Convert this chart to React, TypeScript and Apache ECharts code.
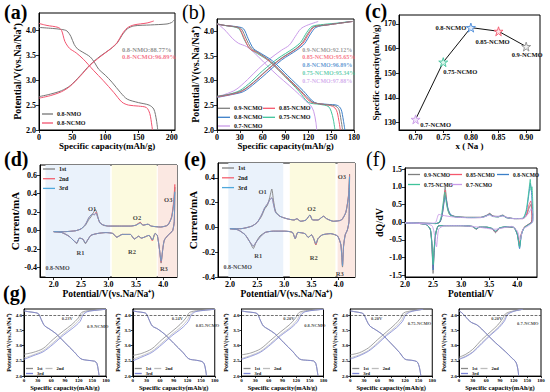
import React, { useEffect, useRef } from "react";
import * as echarts from "echarts";

const FONT = "'Liberation Serif', 'Times New Roman', serif";

// ===== (a) =====
const aNames = ["0.8-NMO", "0.8-NCMO"];
const aColors = ["#767676", "#f2536f"];
const aNmoCharge = [[0,2.67],[17,2.72],[34,2.79],[47,2.89],[62,3.09],[77,3.31],[92,3.48],[108,3.63],[118,3.75],[125,3.9],[133,4.03],[143,4.09],[168,4.11],[193,4.13],[200,4.16],[204,4.21]];
const aNmoDischarge = [[0,4.06],[20,4.04],[34,4.02],[42,3.99],[48,3.88],[53,3.72],[58,3.63],[65,3.57],[77,3.47],[84,3.35],[90,3.22],[100,3.1],[110,2.96],[123,2.75],[133,2.62],[150,2.55],[166,2.5],[173,2.42],[177,2.2],[179,2.0]];
const aNcmoCharge = [[0,2.64],[17,2.69],[34,2.77],[47,2.88],[62,3.08],[77,3.3],[92,3.47],[108,3.63],[118,3.76],[125,3.92],[133,4.05],[143,4.11],[163,4.15],[173,4.19]];
const aNcmoDischarge = [[0,4.14],[12,4.1],[29,4.06],[34,4.0],[39,3.78],[46,3.64],[56,3.55],[67,3.42],[82,3.2],[97,2.99],[113,2.75],[125,2.56],[135,2.5],[150,2.48],[162,2.45],[167,2.33],[170,2.1],[171,2.0]];
const aRetention = ["0.8-NMO:88.77%", "0.8-NCMO:96.89%"];

// ===== (b) =====
const bNames = ["0.9-NCMO", "0.85-NCMO", "0.8-NCMO", "0.75-NCMO", "0.7-NCMO"];
const bColors = ["#7f7f7f", "#f5576c", "#3b7fc8", "#3fc39a", "#c99be8"];
const bChg09 = [[0,2.68],[18,2.73],[33,2.8],[48,2.97],[63,3.18],[83,3.44],[103,3.64],[112,3.77],[120,3.97],[127,4.09],[145,4.13],[178,4.2]];
const bChg085 = [[0,2.67],[18,2.72],[33,2.79],[48,2.96],[63,3.17],[83,3.43],[103,3.63],[113,3.76],[121,3.96],[128,4.09],[145,4.13],[178,4.2]];
const bChg08 = [[0,2.66],[20,2.72],[35,2.78],[50,2.95],[65,3.15],[85,3.42],[105,3.62],[115,3.75],[123,3.95],[130,4.08],[145,4.13],[178,4.2]];
const bChg075 = [[0,2.68],[15,2.72],[30,2.8],[45,2.98],[60,3.2],[80,3.45],[100,3.65],[110,3.78],[118,3.98],[125,4.1],[140,4.14],[160,4.17],[175,4.2]];
const bChg07 = [[0,2.68],[10,2.72],[25,2.82],[40,3.02],[55,3.25],[70,3.45],[85,3.62],[95,3.72],[103,3.9],[110,4.05],[118,4.12],[133,4.2]];
const bDis09 = [[0,4.15],[10,4.12],[25,4.09],[32,4.05],[38,3.86],[45,3.66],[55,3.56],[70,3.4],[90,3.1],[110,2.8],[125,2.57],[140,2.52],[155,2.49],[160,2.42],[163,2.2],[165,2.0]];
const bDis085 = [[0,4.15],[10,4.12],[25,4.09],[30,4.05],[36,3.85],[43,3.65],[55,3.55],[70,3.38],[90,3.08],[110,2.78],[123,2.57],[140,2.52],[152,2.48],[157,2.4],[160,2.2],[162,2.0]];
const bDis08 = [[0,4.15],[10,4.12],[28,4.09],[35,4.05],[41,3.85],[48,3.65],[58,3.55],[73,3.4],[93,3.1],[113,2.8],[128,2.56],[145,2.52],[158,2.5],[163,2.42],[166,2.2],[168,2.0]];
const bDis075 = [[0,4.15],[10,4.12],[25,4.08],[30,4.03],[36,3.83],[43,3.65],[53,3.55],[68,3.4],[88,3.1],[108,2.78],[120,2.56],[135,2.52],[146,2.48],[150,2.38],[153,2.2],[155,2.0]];
const bDis07 = [[0,4.15],[5,4.1],[12,4.0],[20,3.86],[28,3.76],[39,3.69],[50,3.55],[65,3.32],[80,3.1],[95,2.9],[108,2.72],[117,2.58],[123,2.5],[127,2.38],[130,2.15],[131,2.0]];
const bCharge = [bChg09, bChg085, bChg08, bChg075, bChg07];
const bDischarge = [bDis09, bDis085, bDis08, bDis075, bDis07];
const bRetention = ["0.9-NCMO:92.12%", "0.85-NCMO:95.65%", "0.8-NCMO:96.89%", "0.75-NCMO:95.34%", "0.7-NCMO:97.88%"];

// ===== (c) =====
const cX = [0.7, 0.75, 0.8, 0.85, 0.9];
const cCap = [131.3, 154.5, 168.5, 167.0, 160.8];
const cNames = ["0.7-NCMO", "0.75-NCMO", "0.8-NCMO", "0.85-NCMO", "0.9-NCMO"];
const cColors = ["#c99be8", "#3fc39a", "#4a8ad8", "#f5576c", "#8f8f8f"];
const cFill = ["#f1e6fa", "#dcf5eb", "#e0ebfa", "#fde2e6", "#f0f0f0"];
const cLabelOffset = [[20, 5], [17, 9], [-20, 0], [-6, 10], [1, 8]];

// ===== (d) 0.8-NMO CV =====
const cvNames = ["1st", "2nd", "3rd"];
const cvColors = ["#7f7f7f", "#f4606f", "#4fa8dc"];
const d1st = [[2.0,-0.01],[2.2,-0.01],[2.4,0.0],[2.5,0.02],[2.58,0.06],[2.64,0.12],[2.68,0.15],[2.72,0.19],[2.76,0.23],[2.79,0.19],[2.83,0.1],[2.9,0.06],[3.0,0.05],[3.2,0.05],[3.4,0.05],[3.5,0.06],[3.58,0.09],[3.63,0.06],[3.72,0.07],[3.78,0.05],[3.95,0.04],[4.08,0.06],[4.15,0.14],[4.19,0.3],[4.21,0.47],[4.2,0.1],[4.17,0.0],[4.1,-0.04],[4.02,-0.1],[3.99,-0.2],[3.96,-0.35],[3.93,-0.2],[3.89,-0.05],[3.85,-0.03],[3.8,-0.1],[3.74,-0.05],[3.6,-0.08],[3.55,-0.06],[3.47,-0.09],[3.4,-0.04],[3.25,-0.04],[3.15,-0.07],[3.08,-0.03],[2.95,-0.02],[2.8,-0.03],[2.68,-0.05],[2.62,-0.1],[2.58,-0.14],[2.53,-0.09],[2.47,-0.08],[2.42,-0.14],[2.37,-0.11],[2.28,-0.06],[2.15,-0.02],[2.0,-0.01]];
const d2nd = [[2.0,-0.01],[2.2,-0.01],[2.4,0.0],[2.5,0.02],[2.58,0.07],[2.64,0.14],[2.68,0.17],[2.71,0.18],[2.74,0.17],[2.77,0.2],[2.8,0.15],[2.85,0.08],[2.92,0.06],[3.0,0.05],[3.2,0.05],[3.4,0.05],[3.5,0.06],[3.58,0.09],[3.63,0.06],[3.72,0.07],[3.78,0.05],[3.95,0.04],[4.08,0.06],[4.15,0.15],[4.19,0.32],[4.21,0.5],[4.2,0.1],[4.17,0.0],[4.1,-0.04],[4.02,-0.1],[3.99,-0.2],[3.96,-0.34],[3.93,-0.2],[3.89,-0.05],[3.85,-0.03],[3.8,-0.11],[3.74,-0.05],[3.6,-0.08],[3.55,-0.06],[3.47,-0.09],[3.4,-0.04],[3.25,-0.04],[3.15,-0.07],[3.08,-0.03],[2.95,-0.02],[2.8,-0.03],[2.68,-0.05],[2.62,-0.1],[2.58,-0.13],[2.53,-0.09],[2.47,-0.08],[2.42,-0.13],[2.37,-0.11],[2.28,-0.06],[2.15,-0.02],[2.0,-0.01]];
const d3rd = [[2.0,-0.01],[2.2,-0.01],[2.4,0.0],[2.5,0.02],[2.58,0.07],[2.64,0.14],[2.68,0.17],[2.71,0.18],[2.74,0.17],[2.77,0.19],[2.8,0.15],[2.85,0.08],[2.92,0.06],[3.0,0.05],[3.2,0.05],[3.4,0.05],[3.5,0.06],[3.58,0.08],[3.63,0.06],[3.72,0.07],[3.78,0.05],[3.95,0.04],[4.08,0.06],[4.15,0.14],[4.19,0.28],[4.21,0.42],[4.2,0.1],[4.17,0.0],[4.1,-0.04],[4.02,-0.1],[3.99,-0.2],[3.96,-0.33],[3.93,-0.2],[3.89,-0.05],[3.85,-0.03],[3.8,-0.1],[3.74,-0.05],[3.6,-0.08],[3.55,-0.06],[3.47,-0.09],[3.4,-0.04],[3.25,-0.04],[3.15,-0.07],[3.08,-0.03],[2.95,-0.02],[2.8,-0.03],[2.68,-0.05],[2.62,-0.1],[2.58,-0.13],[2.53,-0.09],[2.47,-0.08],[2.42,-0.13],[2.37,-0.11],[2.28,-0.06],[2.15,-0.02],[2.0,-0.01]];

// ===== (e) 0.8-NCMO CV =====
const e1st = [[2.0,-0.01],[2.2,-0.01],[2.4,0.01],[2.5,0.04],[2.58,0.09],[2.64,0.15],[2.69,0.18],[2.73,0.24],[2.77,0.31],[2.8,0.22],[2.84,0.13],[2.92,0.09],[3.05,0.07],[3.18,0.06],[3.23,0.07],[3.3,0.05],[3.4,0.06],[3.47,0.1],[3.52,0.06],[3.62,0.06],[3.72,0.09],[3.78,0.07],[3.9,0.05],[4.05,0.06],[4.13,0.12],[4.18,0.25],[4.2,0.43],[4.19,0.05],[4.16,-0.02],[4.12,-0.06],[4.09,-0.15],[4.07,-0.32],[4.04,-0.14],[3.98,-0.07],[3.85,-0.05],[3.7,-0.06],[3.62,-0.09],[3.58,-0.14],[3.54,-0.09],[3.5,-0.06],[3.44,-0.08],[3.38,-0.05],[3.25,-0.04],[3.2,-0.09],[3.15,-0.04],[3.0,-0.03],[2.8,-0.03],[2.65,-0.04],[2.55,-0.07],[2.48,-0.12],[2.43,-0.17],[2.37,-0.12],[2.28,-0.06],[2.15,-0.02],[2.0,-0.01]];
const e2nd = [[2.0,-0.01],[2.2,-0.01],[2.4,0.01],[2.5,0.04],[2.58,0.1],[2.64,0.16],[2.69,0.19],[2.73,0.22],[2.77,0.24],[2.8,0.19],[2.84,0.12],[2.92,0.09],[3.05,0.07],[3.18,0.06],[3.23,0.07],[3.3,0.05],[3.4,0.06],[3.47,0.1],[3.52,0.06],[3.62,0.06],[3.72,0.09],[3.78,0.07],[3.9,0.05],[4.05,0.06],[4.13,0.12],[4.18,0.26],[4.2,0.42],[4.19,0.05],[4.16,-0.02],[4.12,-0.06],[4.09,-0.15],[4.07,-0.31],[4.04,-0.14],[3.98,-0.07],[3.85,-0.05],[3.7,-0.06],[3.62,-0.09],[3.58,-0.14],[3.54,-0.09],[3.5,-0.06],[3.44,-0.08],[3.38,-0.05],[3.25,-0.04],[3.2,-0.09],[3.15,-0.04],[3.0,-0.03],[2.8,-0.03],[2.65,-0.04],[2.55,-0.08],[2.48,-0.12],[2.43,-0.15],[2.37,-0.12],[2.28,-0.06],[2.15,-0.02],[2.0,-0.01]];
const e3rd = [[2.0,-0.01],[2.2,-0.01],[2.4,0.01],[2.5,0.04],[2.58,0.1],[2.64,0.16],[2.69,0.19],[2.73,0.22],[2.77,0.24],[2.8,0.19],[2.84,0.12],[2.92,0.09],[3.05,0.07],[3.18,0.06],[3.23,0.07],[3.3,0.05],[3.4,0.06],[3.47,0.1],[3.52,0.06],[3.62,0.06],[3.72,0.09],[3.78,0.07],[3.9,0.05],[4.05,0.06],[4.13,0.12],[4.18,0.25],[4.2,0.41],[4.19,0.05],[4.16,-0.02],[4.12,-0.06],[4.09,-0.15],[4.07,-0.31],[4.04,-0.14],[3.98,-0.07],[3.85,-0.05],[3.7,-0.06],[3.62,-0.09],[3.58,-0.13],[3.54,-0.09],[3.5,-0.06],[3.44,-0.08],[3.38,-0.05],[3.25,-0.04],[3.2,-0.09],[3.15,-0.04],[3.0,-0.03],[2.8,-0.03],[2.65,-0.04],[2.55,-0.08],[2.48,-0.12],[2.43,-0.15],[2.37,-0.12],[2.28,-0.06],[2.15,-0.02],[2.0,-0.01]];

// ===== (f) dQ/dV =====
const f09 = [[2.0,-0.02],[2.3,-0.03],[2.55,-0.04],[2.62,0.0],[2.66,0.2],[2.69,0.6],[2.715,1.0],[2.735,0.7],[2.76,0.4],[2.8,0.22],[2.9,0.16],[3.1,0.14],[3.35,0.14],[3.46,0.2],[3.51,0.25],[3.56,0.18],[3.66,0.16],[3.74,0.2],[3.8,0.14],[3.95,0.1],[4.1,0.1],[4.16,0.18],[4.21,0.4],[4.24,0.5],[4.26,0.15],[4.25,0.0],[4.2,-0.06],[4.12,-0.15],[4.07,-0.35],[4.04,-0.68],[4.0,-0.35],[3.94,-0.16],[3.8,-0.14],[3.68,-0.18],[3.61,-0.3],[3.56,-0.2],[3.45,-0.15],[3.32,-0.15],[3.27,-0.2],[3.2,-0.13],[3.0,-0.1],[2.8,-0.1],[2.6,-0.1],[2.55,-0.3],[2.52,-0.8],[2.5,-1.45],[2.48,-0.7],[2.45,-0.2],[2.38,-0.07],[2.2,-0.03],[2.0,-0.02]];
const f085 = [[2.0,-0.02],[2.3,-0.03],[2.55,-0.04],[2.62,0.0],[2.66,0.2],[2.69,0.55],[2.715,0.9],[2.735,0.65],[2.76,0.38],[2.8,0.21],[2.9,0.15],[3.1,0.13],[3.35,0.13],[3.46,0.19],[3.51,0.24],[3.56,0.17],[3.66,0.15],[3.74,0.19],[3.8,0.13],[3.95,0.1],[4.1,0.1],[4.16,0.2],[4.21,0.5],[4.24,0.6],[4.26,0.15],[4.25,0.0],[4.2,-0.06],[4.12,-0.15],[4.07,-0.33],[4.04,-0.6],[4.0,-0.32],[3.94,-0.15],[3.8,-0.13],[3.68,-0.17],[3.61,-0.28],[3.56,-0.19],[3.45,-0.14],[3.32,-0.14],[3.27,-0.19],[3.2,-0.12],[3.0,-0.1],[2.8,-0.1],[2.6,-0.1],[2.55,-0.3],[2.52,-0.75],[2.5,-1.3],[2.48,-0.65],[2.45,-0.2],[2.38,-0.07],[2.2,-0.03],[2.0,-0.02]];
const f08 = [[2.0,-0.02],[2.3,-0.03],[2.55,-0.04],[2.62,0.0],[2.66,0.18],[2.69,0.5],[2.72,0.75],[2.74,0.6],[2.77,0.36],[2.82,0.2],[2.9,0.15],[3.1,0.13],[3.35,0.13],[3.46,0.19],[3.51,0.23],[3.56,0.17],[3.66,0.15],[3.74,0.19],[3.8,0.13],[3.95,0.1],[4.1,0.11],[4.16,0.3],[4.21,0.85],[4.23,1.1],[4.25,0.9],[4.27,0.2],[4.26,0.0],[4.2,-0.07],[4.12,-0.16],[4.07,-0.38],[4.04,-0.75],[4.0,-0.36],[3.94,-0.15],[3.8,-0.13],[3.68,-0.17],[3.61,-0.27],[3.56,-0.19],[3.45,-0.14],[3.32,-0.14],[3.27,-0.19],[3.2,-0.12],[3.0,-0.1],[2.8,-0.1],[2.6,-0.1],[2.55,-0.3],[2.52,-0.8],[2.5,-1.35],[2.48,-0.65],[2.45,-0.2],[2.38,-0.07],[2.2,-0.03],[2.0,-0.02]];
const f075 = [[2.0,-0.02],[2.3,-0.03],[2.55,-0.04],[2.61,0.0],[2.65,0.2],[2.68,0.55],[2.71,0.85],[2.73,0.6],[2.76,0.35],[2.8,0.2],[2.9,0.15],[3.1,0.13],[3.35,0.13],[3.46,0.18],[3.51,0.22],[3.56,0.16],[3.66,0.15],[3.74,0.18],[3.8,0.13],[3.95,0.1],[4.1,0.11],[4.16,0.35],[4.21,0.95],[4.23,1.21],[4.245,0.9],[4.26,1.0],[4.28,0.2],[4.27,0.0],[4.2,-0.07],[4.12,-0.16],[4.07,-0.36],[4.04,-0.7],[4.0,-0.34],[3.94,-0.15],[3.8,-0.13],[3.68,-0.16],[3.61,-0.25],[3.56,-0.18],[3.45,-0.14],[3.32,-0.14],[3.27,-0.18],[3.2,-0.12],[3.0,-0.1],[2.8,-0.1],[2.6,-0.1],[2.55,-0.3],[2.52,-0.7],[2.5,-1.2],[2.48,-0.6],[2.45,-0.2],[2.38,-0.07],[2.2,-0.03],[2.0,-0.02]];
const f07 = [[2.0,-0.02],[2.4,-0.03],[2.54,-0.02],[2.57,0.1],[2.6,0.22],[2.65,0.2],[2.75,0.17],[2.9,0.14],[3.2,0.12],[3.4,0.14],[3.5,0.2],[3.56,0.16],[3.74,0.17],[3.9,0.1],[4.1,0.1],[4.2,0.25],[4.25,0.38],[4.28,0.2],[4.27,0.0],[4.2,-0.1],[4.1,-0.2],[4.05,-0.5],[4.0,-0.25],[3.9,-0.12],[3.6,-0.2],[3.3,-0.14],[3.0,-0.1],[2.7,-0.1],[2.6,-0.2],[2.56,-0.7],[2.53,-0.4],[2.48,-0.1],[2.3,-0.04],[2.0,-0.02]];
const fCurves = [f09, f085, f08, f075, f07];

// ===== (g) three cycles for each sample =====
const gCharge1st = [
  [[0,2.72],[20,2.78],[42,2.91],[64,3.21],[86,3.48],[105,3.7],[119,3.91],[127,4.1],[145,4.16],[180,4.2]],
  [[0,2.68],[20,2.75],[42,2.9],[64,3.2],[86,3.47],[104,3.7],[117,3.92],[125,4.1],[145,4.16],[180,4.2]],
  [[0,2.7],[20,2.76],[42,2.9],[64,3.18],[86,3.46],[106,3.7],[119,3.92],[127,4.1],[145,4.16],[180,4.2]],
  [[0,2.7],[20,2.77],[40,2.93],[60,3.2],[80,3.46],[98,3.7],[110,3.9],[117,4.08],[135,4.15],[160,4.2]],
  [[0,2.62],[15,2.72],[30,2.88],[50,3.2],[70,3.47],[85,3.68],[95,3.88],[102,4.05],[115,4.13],[140,4.2]],
];
const gCharge2nd = [
  [[0,2.6],[20,2.7],[42,2.84],[64,3.1],[86,3.39],[106,3.63],[121,3.85],[128,4.05],[138,4.13],[180,4.2]],
  [[0,2.56],[20,2.67],[42,2.82],[64,3.09],[86,3.38],[106,3.62],[120,3.85],[127,4.05],[137,4.13],[180,4.2]],
  [[0,2.58],[20,2.68],[42,2.82],[64,3.08],[86,3.37],[108,3.62],[122,3.85],[129,4.05],[139,4.13],[180,4.2]],
  [[0,2.6],[20,2.7],[40,2.85],[60,3.1],[80,3.38],[100,3.63],[113,3.85],[120,4.04],[132,4.13],[160,4.2]],
  [[0,2.57],[15,2.66],[30,2.8],[50,3.1],[70,3.39],[87,3.62],[98,3.84],[105,4.03],[118,4.13],[140,4.2]],
];
const gCharge3rd = [
  [[0,2.55],[20,2.67],[42,2.8],[64,3.05],[86,3.34],[108,3.59],[123,3.8],[130,4.02],[139,4.12],[160,4.17],[180,4.2]],
  [[0,2.5],[20,2.63],[42,2.78],[64,3.04],[86,3.33],[108,3.58],[122,3.8],[129,4.02],[138,4.12],[160,4.17],[180,4.2]],
  [[0,2.55],[20,2.65],[42,2.79],[64,3.04],[86,3.33],[110,3.6],[124,3.81],[131,4.02],[140,4.12],[160,4.17],[180,4.2]],
  [[0,2.56],[20,2.67],[40,2.82],[60,3.06],[80,3.34],[102,3.6],[115,3.81],[122,4.02],[133,4.12],[160,4.2]],
  [[0,2.55],[15,2.64],[30,2.78],[50,3.07],[70,3.36],[88,3.6],[100,3.82],[107,4.03],[120,4.13],[140,4.2]],
];
const gGapText = ["0.23V", "0.24V", "0.20V", "0.20V", "0.20V"];
const gGapAt = [[95, 3.9], [98, 3.9], [104, 3.9], [58, 3.9], [83, 3.9]];
const gNameAt = [[162, 3.65], [164, 3.68], [161, 3.68], [152, 3.72], [151, 3.72]];
const gColors = ["#8a8a8a", "#bcbcbc", "#7c84d6"];

const STAR = "path://M50,2 L61.8,38.2 L99,38.2 L68.9,60.3 L80.3,96.5 L50,74 L19.7,96.5 L31.1,60.3 L1,38.2 L38.2,38.2 Z";

function buildOption() {
  const grids: any[] = [
    { left: 39, top: 13, width: 136, height: 117 },
    { left: 217, top: 19, width: 137, height: 111 },
    { left: 399, top: 15, width: 141, height: 115 },
    { left: 40, top: 165, width: 137, height: 112 },
    { left: 218, top: 163, width: 137, height: 114 },
    { left: 405, top: 168, width: 132, height: 109 },
  ];
  for (let i = 0; i < 5; i++) grids.push({ left: 24 + i * 108.75, top: 309, width: 82, height: 68.5 });
  grids.forEach((g) => Object.assign(g, { show: true, borderColor: "#000", borderWidth: 1, backgroundColor: "transparent", containLabel: false }));

  const ax = (gi: number, o: any, fs: number, nameFs: number, gap: number, fmt: any, showMin: boolean, showMax: boolean) => ({
    type: "value",
    gridIndex: gi,
    nameLocation: "middle",
    nameGap: gap,
    nameTextStyle: { fontFamily: FONT, fontWeight: "bold", fontSize: nameFs, color: "#000" },
    axisLine: { show: true, onZero: false, lineStyle: { color: "#000", width: 1 } },
    axisTick: { show: true, length: fs > 6 ? 3 : 2, lineStyle: { color: "#000", width: 0.8 } },
    axisLabel: { fontFamily: FONT, fontWeight: "bold", fontSize: fs, color: "#000", margin: fs > 6 ? 3 : 2, formatter: fmt, showMinLabel: showMin, showMaxLabel: showMax },
    splitLine: { show: false },
    ...o,
  });
  const f0 = (v: number) => String(Math.round(v));
  const f1 = (v: number) => v.toFixed(1);
  const f2 = (v: number) => v.toFixed(2);
  const POT = "Potential/V(vs.Na/Na\u207A)";
  const CAP = "Specific capacity(mAh/g)";

  const xAxis: any[] = [
    ax(0, { min: 0, max: 205, interval: 50, name: CAP }, 8, 9, 10, f0, true, false),
    ax(1, { min: 0, max: 180, interval: 30, name: CAP }, 8, 9, 10, f0, true, true),
    ax(2, { min: 0.67, max: 0.925, splitNumber: 5, name: "x ( Na )" }, 8, 9, 10, f2, false, false),
    ax(3, { min: 1.75, max: 4.25, splitNumber: 5, name: POT }, 8, 9.5, 11, f1, false, false),
    ax(4, { min: 1.78, max: 4.3, splitNumber: 5, name: POT }, 8, 9.5, 11, f1, false, false),
    ax(5, { min: 2.0, max: 4.35, interval: 0.5, name: "Potential/V" }, 8, 9.5, 11, f1, true, false),
  ];
  const yAxis: any[] = [
    ax(0, { min: 2.0, max: 4.35, interval: 0.5, name: POT }, 8, 10, 13, f1, true, false),
    ax(1, { min: 2.0, max: 4.25, interval: 0.5, name: POT }, 8, 10, 12, f1, true, false),
    ax(2, { min: 127, max: 173.6, splitNumber: 5, name: CAP }, 8, 9, 13, f0, false, false),
    ax(3, { min: -0.5, max: 0.71, splitNumber: 6, name: "Current/mA" }, 8, 11, 16, f1, false, false),
    ax(4, { min: -0.4, max: 0.52, splitNumber: 5, name: "Current/mA" }, 8, 11, 16, f1, true, false),
    ax(5, { min: -1.55, max: 1.53, splitNumber: 6, name: "dQ/dV" }, 8, 10, 21, f1, false, false),
  ];
  for (let i = 0; i < 5; i++) {
    xAxis.push(ax(6 + i, { min: 0, max: 180, interval: 30, name: CAP }, 5, 6.5, 7, f0, true, true));
    yAxis.push(ax(6 + i, { min: 2.0, max: 4.21, interval: 0.5, name: POT }, 5, 6, 10, f1, true, false));
  }

  const line = (name: string, gi: number, data: any, color: string, extra: any = {}) => ({
    type: "line", name, xAxisIndex: gi, yAxisIndex: gi, data, symbol: "none", smooth: 0.3,
    lineStyle: { color, width: 1 }, itemStyle: { color }, z: 3, ...extra,
  });
  const texts = (gi: number, items: any[]) => ({
    type: "scatter", xAxisIndex: gi, yAxisIndex: gi, symbolSize: 1, silent: true, z: 10,
    itemStyle: { color: "rgba(0,0,0,0)" },
    data: items.map((it) => ({
      value: it.v,
      label: { show: true, formatter: it.t, position: "inside", align: it.align || "center", verticalAlign: "middle", color: it.c || "#111", fontSize: it.fs, fontWeight: "bold", fontFamily: FONT },
    })),
  });

  const series: any[] = [];
  // (a)
  series.push(line("a:" + aNames[0], 0, aNmoCharge, aColors[0]));
  series.push(line("a:" + aNames[0], 0, aNmoDischarge, aColors[0]));
  series.push(line("a:" + aNames[1], 0, aNcmoCharge, aColors[1]));
  series.push(line("a:" + aNames[1], 0, aNcmoDischarge, aColors[1]));
  series.push(texts(0, [
    { v: [125, 3.62], t: aRetention[0], c: aColors[0], fs: 6.5, align: "left" },
    { v: [125, 3.47], t: aRetention[1], c: aColors[1], fs: 6.5, align: "left" },
  ]));
  // (b)
  for (let i = 4; i >= 0; i--) {
    series.push(line("b:" + bNames[i], 1, bCharge[i], bColors[i]));
    series.push(line("b:" + bNames[i], 1, bDischarge[i], bColors[i]));
  }
  series.push(texts(1, bRetention.map((t, i) => ({ v: [112, 3.63 - i * 0.158], t, c: bColors[i], fs: 6, align: "left" }))));
  // (c)
  series.push({
    type: "line", xAxisIndex: 2, yAxisIndex: 2, symbol: STAR, symbolSize: 9, z: 4,
    lineStyle: { color: "#111", width: 1 },
    data: cX.map((x, i) => ({
      value: [x, cCap[i]],
      itemStyle: { color: cFill[i], borderColor: cColors[i], borderWidth: 0.9 },
      label: { show: true, formatter: cNames[i], position: "inside", offset: cLabelOffset[i], fontSize: 6.5, fontWeight: "bold", fontFamily: FONT, color: "#111" },
    })),
  });
  // (d)
  const dData = [d1st, d2nd, d3rd];
  const eData = [e1st, e2nd, e3rd];
  const bandArea = (bands: number[][]) => ({
    silent: true,
    data: bands.map((b) => [{ xAxis: b[0], itemStyle: { color: ["#eaf2fb", "#fcfadf", "#fbe8e2"][b[2]] } }, { xAxis: b[1] }]),
  });
  dData.forEach((d, i) => series.push(line("cv:" + cvNames[i], 3, d, cvColors[i], {
    smooth: 0.2, lineStyle: { color: cvColors[i], width: 1, opacity: i === 2 ? 0.75 : 0.9 },
    ...(i === 0 ? { markArea: bandArea([[1.85, 3.03, 0], [3.06, 3.88, 1], [3.9, 4.25, 2]]) } : {}),
  })));
  series.push(texts(3, [
    { v: [2.7, 0.24], t: "O1", fs: 6.5 }, { v: [3.52, 0.145], t: "O2", fs: 6.5 }, { v: [4.09, 0.34], t: "O3", fs: 6.5 },
    { v: [2.49, -0.237], t: "R1", fs: 6.5 }, { v: [3.43, -0.22], t: "R2", fs: 6.5 }, { v: [4.01, -0.41], t: "R3", fs: 6.5 },
    { v: [1.85, -0.4], t: "0.8-NMO", fs: 6, align: "left" },
  ]));
  // (e)
  eData.forEach((d, i) => series.push(line("cv:" + cvNames[i], 4, d, cvColors[i], {
    smooth: 0.2, lineStyle: { color: cvColors[i], width: 1, opacity: i === 2 ? 0.75 : 0.9 },
    ...(i === 0 ? { markArea: bandArea([[1.97, 2.98, 0], [3.1, 3.94, 1], [3.98, 4.3, 2]]) } : {}),
  })));
  series.push(texts(4, [
    { v: [2.6, 0.29], t: "O1", fs: 6.5 }, { v: [3.5, 0.156], t: "O2", fs: 6.5 }, { v: [4.06, 0.41], t: "O3", fs: 6.5 },
    { v: [2.52, -0.227], t: "R1", fs: 6.5 }, { v: [3.54, -0.24], t: "R2", fs: 6.5 }, { v: [4.02, -0.37], t: "R3", fs: 6.5 },
    { v: [1.88, -0.32], t: "0.8-NCMO", fs: 6, align: "left" },
  ]));
  // (f)
  fCurves.forEach((d, i) => series.push(line("f:" + bNames[i], 5, d, bColors[i], { smooth: 0.2, lineStyle: { color: bColors[i], width: 1, opacity: 0.9 } })));
  // (g)
  for (let i = 0; i < 5; i++) {
    const gi = 6 + i;
    series.push(line("g:1st", gi, bDischarge[i], gColors[0], { lineStyle: { color: gColors[0], width: 0.8 } }));
    series.push(line("g:1st", gi, gCharge1st[i], gColors[0], { lineStyle: { color: gColors[0], width: 0.8 } }));
    series.push(line("g:2nd", gi, gCharge2nd[i], gColors[1], { lineStyle: { color: gColors[1], width: 0.8 } }));
    series.push(line("g:3rd", gi, gCharge3rd[i], gColors[2], {
      lineStyle: { color: gColors[2], width: 0.8 },
      markLine: { silent: true, symbol: "none", label: { show: false }, lineStyle: { type: "dashed", color: "#333", width: 0.7 }, data: [{ yAxis: 4.0 }] },
    }));
    series.push(line("g:3rd", gi, bDischarge[i], gColors[2], { lineStyle: { color: gColors[2], width: 0.8 } }));
    series.push(texts(gi, [
      { v: gGapAt[i], t: gGapText[i], fs: 4.5 },
      { v: gNameAt[i], t: bNames[i], fs: 4.5 },
    ]));
  }

  // legends: thin rect icons look like line samples
  const leg = (names: string[], left: number, top: number, fs: number, iw: number, gap: number, orient = "horizontal") => ({
    data: names, left, top, orient, icon: "rect", itemWidth: iw, itemHeight: 1.3, itemGap: gap, padding: 0, selectedMode: false,
    textStyle: { fontFamily: FONT, fontWeight: "bold", fontSize: fs, color: "#111", padding: [0, 0, 0, -1] },
    formatter: (n: string) => n.slice(n.indexOf(":") + 1),
  });
  const legend: any[] = [
    leg(["a:0.8-NMO", "a:0.8-NCMO"], 42, 111, 6, 11, 3, "vertical"),
    leg(["b:0.9-NCMO"], 218, 105.3, 6, 12, 0),
    leg(["b:0.85-NCMO"], 263, 105.3, 6, 12, 0),
    leg(["b:0.8-NCMO"], 218, 114.3, 6, 12, 0),
    leg(["b:0.75-NCMO"], 263, 114.3, 6, 12, 0),
    leg(["b:0.7-NCMO"], 218, 123, 6, 12, 0),
    leg(["cv:1st", "cv:2nd", "cv:3rd"], 43, 166, 6, 12, 3.7, "vertical"),
    leg(["cv:1st", "cv:2nd", "cv:3rd"], 222, 165, 6, 12, 3.8, "vertical"),
    leg(["f:0.9-NCMO"], 408, 171.5, 5.5, 12, 0),
    leg(["f:0.85-NCMO"], 450, 171.5, 5.5, 12, 0),
    leg(["f:0.8-NCMO"], 497, 171.5, 5.5, 12, 0),
    leg(["f:0.75-NCMO"], 408, 181.5, 5.5, 12, 0),
    leg(["f:0.7-NCMO"], 450, 181.5, 5.5, 12, 0),
  ];
  for (let i = 0; i < 5; i++) {
    const gl = 24 + i * 108.75 + 2;
    legend.push(leg(["g:1st", "g:2nd"], gl, 366, 4.5, 7, 3));
    legend.push(leg(["g:3rd"], gl, 371, 4.5, 7, 3));
  }

  const panelLabels = [
    { t: "(a)", x: 4, y: 2, b: true }, { t: "(b)", x: 182, y: 2, b: false }, { t: "(c)", x: 365, y: 1, b: true },
    { t: "(d)", x: 4, y: 149, b: true }, { t: "(e)", x: 184, y: 149, b: true }, { t: "(f)", x: 366, y: 149, b: false },
    { t: "(g)", x: 3, y: 283, b: true },
  ];
  const graphic = panelLabels.map((p) => ({
    type: "text", left: p.x, top: p.y, z: 100,
    style: { text: p.t, fontFamily: FONT, fontSize: 20, fontWeight: p.b ? "bold" : "normal", fill: "#000" },
  }));

  return {
    animation: false,
    backgroundColor: "#ffffff",
    textStyle: { fontFamily: FONT },
    grid: grids,
    xAxis,
    yAxis,
    legend,
    series,
    graphic,
  };
}

export default function App() {
  const ref = useRef<HTMLDivElement>(null);
  useEffect(() => {
    document.body.style.margin = "0";
    const chart = echarts.init(ref.current as HTMLDivElement, undefined, { renderer: "svg" });
    chart.setOption(buildOption() as any);
    return () => chart.dispose();
  }, []);
  return <div ref={ref} style={{ width: 550, height: 392 }} />;
}
